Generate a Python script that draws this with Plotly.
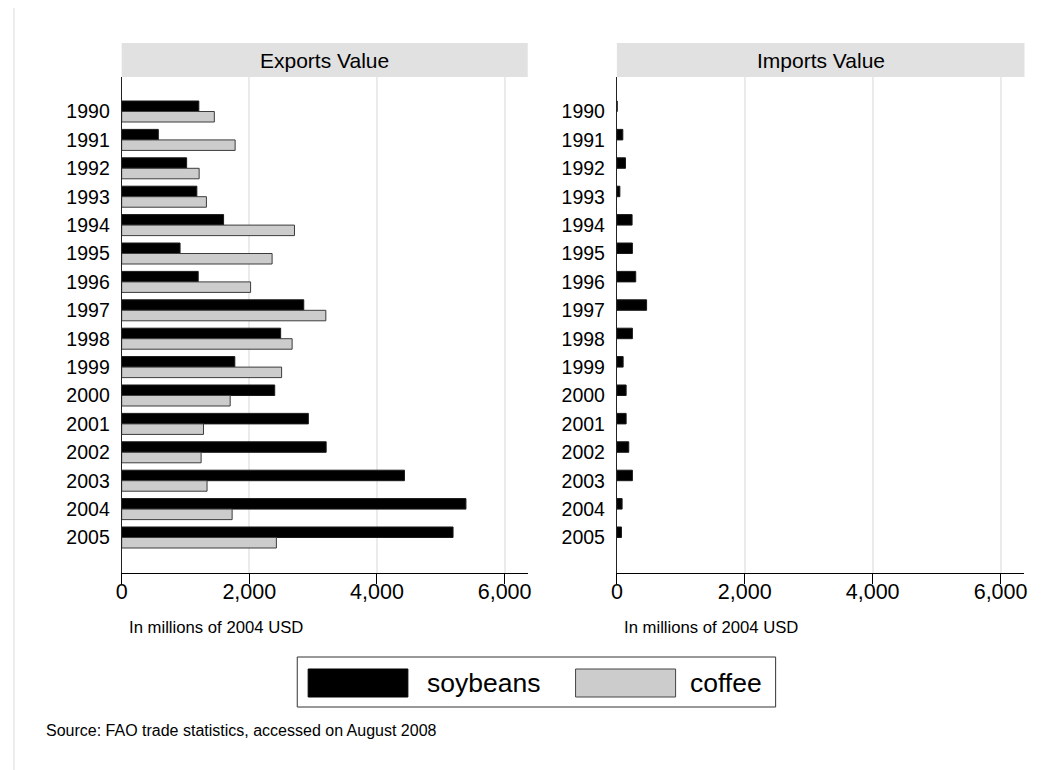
import plotly.graph_objects as go

# ---- data ----
years = ["1990", "1991", "1992", "1993", "1994", "1995", "1996", "1997",
         "1998", "1999", "2000", "2001", "2002", "2003", "2004", "2005"]
export_soybeans = [1209, 574, 1018, 1178, 1597, 915, 1199, 2853,
                   2491, 1773, 2398, 2925, 3204, 4431, 5394, 5192]
export_coffee = [1452, 1778, 1214, 1328, 2708, 2357, 2020, 3199,
                 2671, 2506, 1700, 1282, 1245, 1338, 1731, 2424]
import_soybeans = [5, 93, 135, 47, 238, 243, 295, 465,
                   243, 98, 145, 145, 186, 243, 82, 72]
import_coffee = [0, 0, 0, 0, 0, 0, 0, 0,
                 0, 0, 0, 0, 0, 0, 0, 0]
x_ticks = [0, 2000, 4000, 6000]
panel_titles = ["Exports Value", "Imports Value"]
x_title = "In millions of 2004 USD"
series_names = ["soybeans", "coffee"]
source_text = "Source: FAO trade statistics, accessed on August 2008"

# ---- layout helpers (page pixels; the page body has an 8px margin) ----
OFF = 8
W, H = 1051 - OFF, 770 - OFF
FONT = "Liberation Sans, Arial, Helvetica, sans-serif"


def px(x):
    return (x - OFF) / W


def py(y):
    return 1 - (y - OFF) / H


SOY_MARKER = dict(color="black", line=dict(color="#1a1a1a", width=1))
COF_MARKER = dict(color="#cccccc", line=dict(color="#3c3c3c", width=1))

fig = go.Figure()
fig.add_trace(go.Bar(name=series_names[0], y=years, x=export_soybeans, orientation="h",
                     xaxis="x", yaxis="y", marker=SOY_MARKER, showlegend=False))
fig.add_trace(go.Bar(name=series_names[1], y=years, x=export_coffee, orientation="h",
                     xaxis="x", yaxis="y", marker=COF_MARKER, showlegend=False))
fig.add_trace(go.Bar(name=series_names[0], y=years, x=import_soybeans, orientation="h",
                     xaxis="x2", yaxis="y2", marker=SOY_MARKER, showlegend=False))
fig.add_trace(go.Bar(name=series_names[1], y=years, x=import_coffee, orientation="h",
                     xaxis="x2", yaxis="y2",
                     marker=dict(color="#cccccc", line=dict(width=0)), showlegend=False))

xcommon = dict(range=[0, 6362], tickvals=x_ticks, tickformat=",", showgrid=True,
               gridcolor="#ebebeb", gridwidth=1.5, zeroline=False, showline=True,
               linecolor="black", linewidth=1, ticks="outside", ticklen=10,
               tickcolor="black", tickwidth=1, ticklabelstandoff=-11,
               tickfont=dict(family=FONT, size=21.5, color="black"), fixedrange=True)
ycommon = dict(type="category", categoryorder="array", categoryarray=years,
               range=[16.25, -1.215], showgrid=False, zeroline=False, showline=True,
               linecolor="#222222", linewidth=1, ticks="outside", ticklen=7,
               tickcolor="rgba(0,0,0,0)",
               tickfont=dict(family=FONT, size=19.5, color="black"), fixedrange=True)

ydom = [py(573), py(77)]
fig.update_layout(
    width=W, height=H,
    margin=dict(l=0, r=0, t=0, b=0),
    paper_bgcolor="white", plot_bgcolor="white",
    font=dict(family=FONT, color="black"),
    barmode="group", bargap=0.26, bargroupgap=0,
    xaxis=dict(domain=[px(116.7), px(526.7)], anchor="y", **xcommon),
    yaxis=dict(domain=ydom, anchor="x", **ycommon),
    xaxis2=dict(domain=[px(616.7), px(1027.5)], anchor="y2", **xcommon),
    yaxis2=dict(domain=ydom, anchor="x2", **ycommon),
)

shapes = []
annotations = []
# outer graph region border
shapes.append(dict(type="rect", xref="paper", yref="paper", x0=px(8), x1=px(1070),
                   y0=py(7), y1=py(790), line=dict(color="#ececec", width=2),
                   fillcolor="rgba(0,0,0,0)", layer="below"))
# panel header strips
for (x0, x1), title in zip([(116.7, 526.7), (616.7, 1028.3)], panel_titles):
    shapes.append(dict(type="rect", xref="paper", yref="paper", x0=px(x0), x1=px(x1),
                       y0=py(77), y1=py(43), line=dict(width=0), fillcolor="#e1e1e1"))
    annotations.append(dict(text=title, xref="paper", yref="paper", x=px((x0 + x1) / 2),
                            y=py(60), xanchor="center", yanchor="middle", showarrow=False,
                            font=dict(family=FONT, size=21, color="black")))
# x axis titles
for xl in [122, 621.7]:
    annotations.append(dict(text=x_title, xref="paper", yref="paper", x=px(xl), y=py(627),
                            xanchor="left", yanchor="middle", showarrow=False,
                            font=dict(family=FONT, size=16.7, color="black")))
# legend box
shapes.append(dict(type="rect", xref="paper", yref="paper", x0=px(294), x1=px(777),
                   y0=py(707), y1=py(657), line=dict(color="#333333", width=1),
                   fillcolor="white"))
shapes.append(dict(type="rect", xref="paper", yref="paper", x0=px(305), x1=px(405.7),
                   y0=py(697), y1=py(669), line=dict(color="black", width=1),
                   fillcolor="black"))
shapes.append(dict(type="rect", xref="paper", yref="paper", x0=px(575), x1=px(676),
                   y0=py(697), y1=py(669), line=dict(color="#444444", width=1),
                   fillcolor="#cccccc"))
for xl, name in zip([423, 689], series_names):
    annotations.append(dict(text=name, xref="paper", yref="paper", x=px(xl), y=py(683),
                            xanchor="left", yanchor="middle", showarrow=False,
                            font=dict(family=FONT, size=26.5, color="black")))
# source note
annotations.append(dict(text=source_text, xref="paper", yref="paper", x=px(38), y=py(730),
                        xanchor="left", yanchor="middle", showarrow=False,
                        font=dict(family=FONT, size=16, color="black")))

fig.update_layout(shapes=shapes, annotations=annotations)
fig.write_html("out.html")
